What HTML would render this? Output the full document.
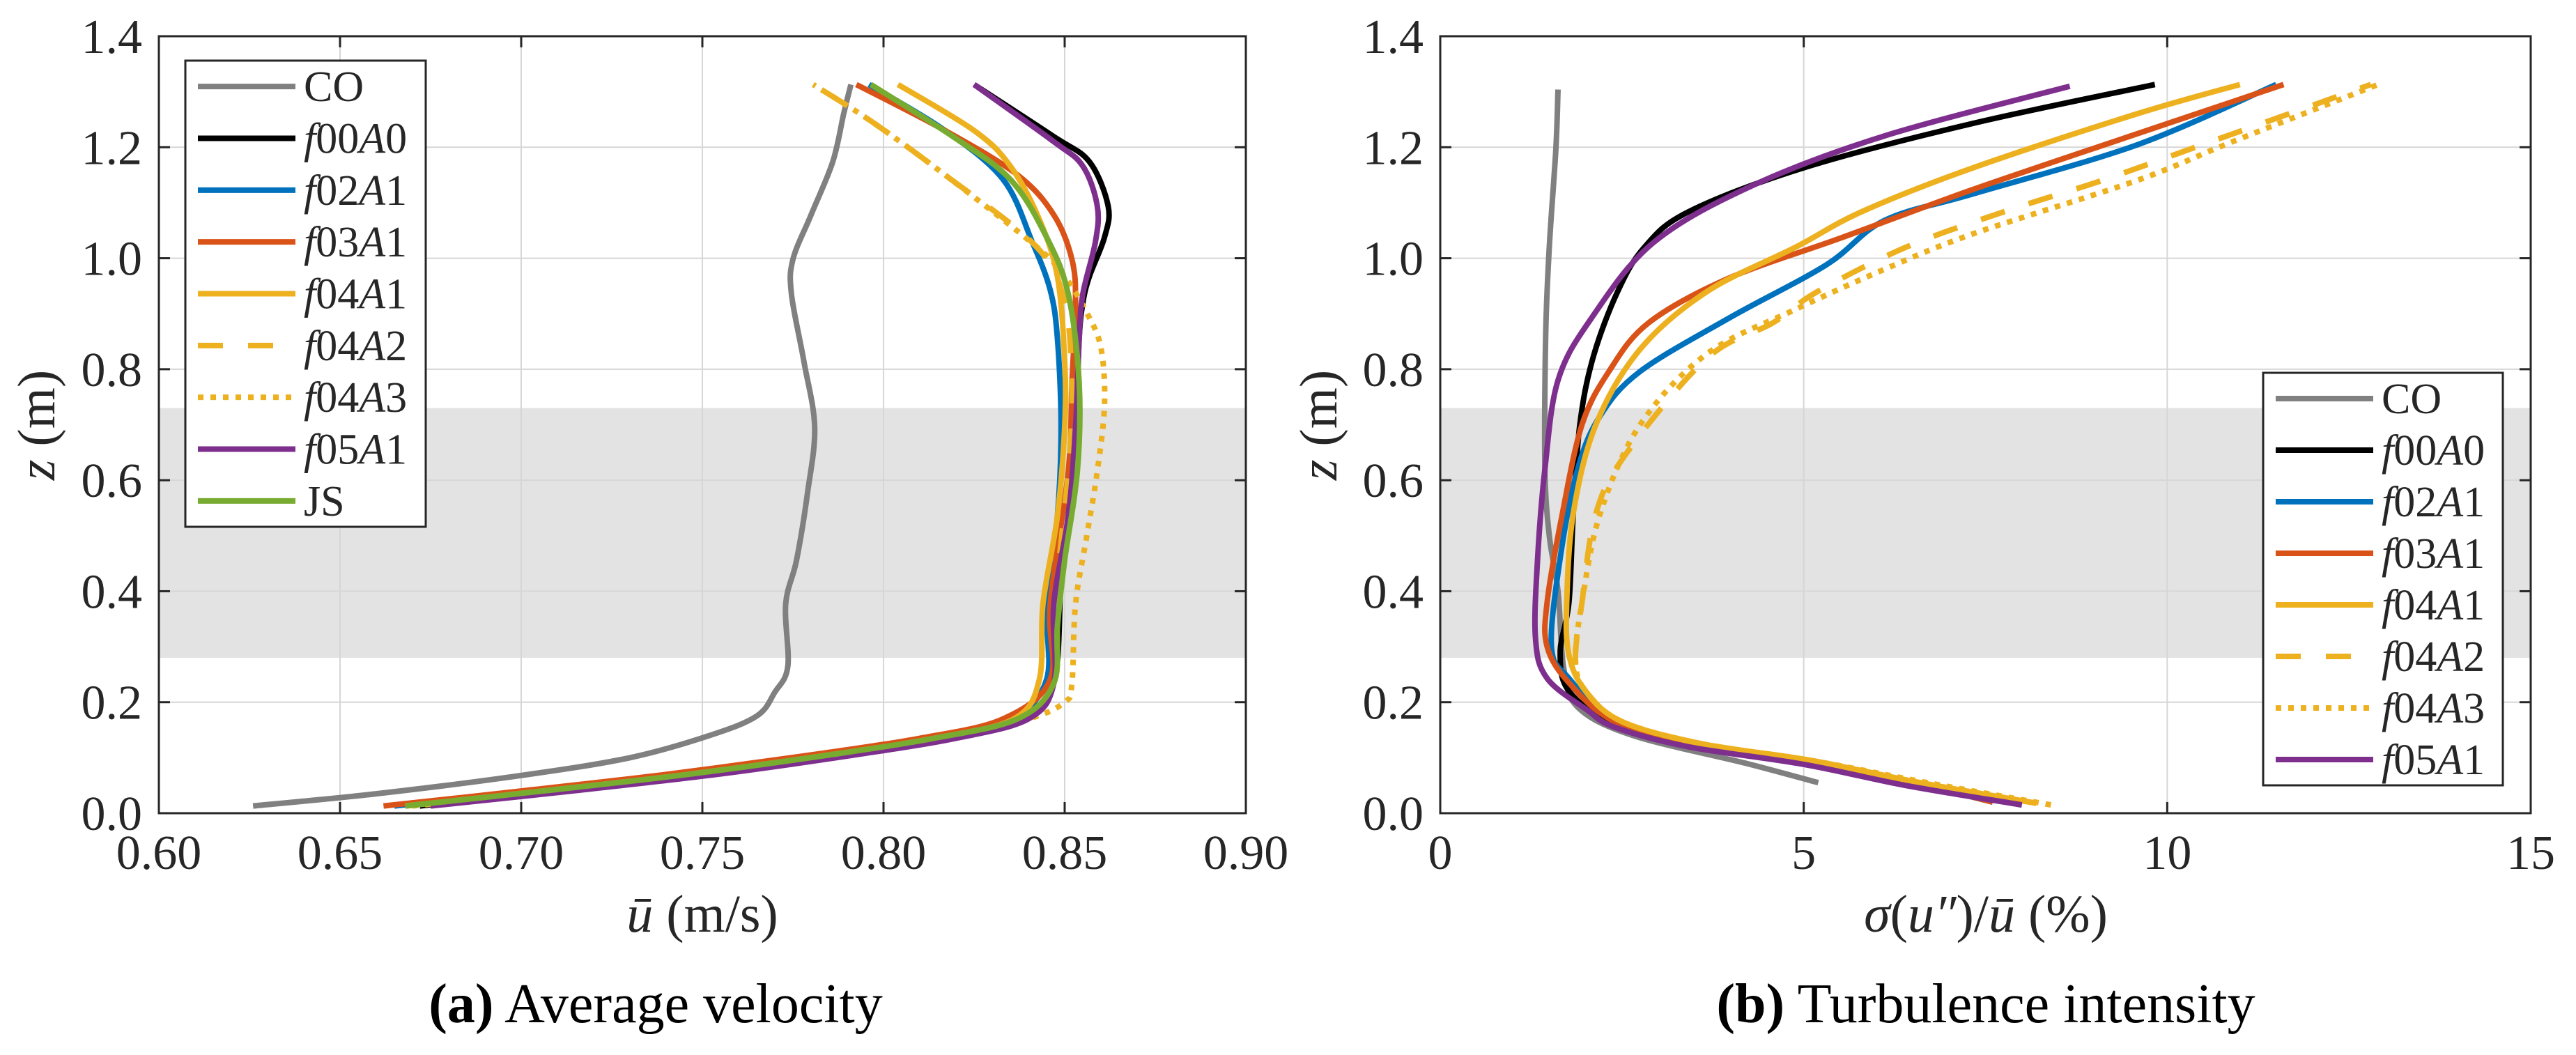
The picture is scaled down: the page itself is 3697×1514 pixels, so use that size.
<!DOCTYPE html>
<html><head><meta charset="utf-8"><style>
html,body{margin:0;padding:0;background:#fff;}
svg{display:block;}
text{font-family:"Liberation Serif",serif;fill:#262626;}
</style></head><body>
<svg id="fig" width="3697" height="1514" viewBox="0 0 3697 1514" xmlns="http://www.w3.org/2000/svg">
<g id="panelA"></g>
<g id="panelB"></g>
<text x="941" y="1467" text-anchor="middle" font-size="80" style="fill:#000"><tspan font-weight="bold">(a)</tspan> Average velocity</text>
<text x="2850" y="1467" text-anchor="middle" font-size="80" style="fill:#000"><tspan font-weight="bold">(b)</tspan> Turbulence intensity</text>
</svg>
<script>
// ---------- data ----------
const zTicks = [0.0,0.2,0.4,0.6,0.8,1.0,1.2,1.4];
const zTickLabels = ["0.0","0.2","0.4","0.6","0.8","1.0","1.2","1.4"];
const uTicks = [0.60,0.65,0.70,0.75,0.80,0.85,0.90];
const uTickLabels = ["0.60","0.65","0.70","0.75","0.80","0.85","0.90"];
const sTicks = [0,5,10,15];
const sTickLabels = ["0","5","10","15"];
const bandZ = [0.28,0.73];
const seriesNames = ["CO","f00A0","f02A1","f03A1","f04A1","f04A2","f04A3","f05A1","JS"];

// Panel (a): [u, z]
const uCO = [[0.626,0.013],[0.66,0.035],[0.70,0.068],[0.73,0.10],[0.752,0.14],[0.765,0.175],[0.77,0.218],[0.7736,0.265],[0.773,0.377],[0.776,0.456],[0.779,0.576],[0.781,0.696],[0.778,0.815],[0.7746,0.935],[0.775,0.998],[0.78,1.078],[0.786,1.174],[0.789,1.26],[0.791,1.313]];
const uF00A0 = [[0.672,0.013],[0.71,0.04],[0.75,0.07],[0.788,0.105],[0.816,0.135],[0.838,0.17],[0.847,0.234],[0.849,0.417],[0.851,0.536],[0.853,0.696],[0.854,0.855],[0.855,0.919],[0.8568,0.967],[0.861,1.038],[0.862,1.094],[0.8568,1.174],[0.8468,1.22],[0.825,1.313]];
const uF02A1 = [[0.665,0.013],[0.703,0.04],[0.743,0.07],[0.782,0.105],[0.812,0.135],[0.835,0.17],[0.845,0.241],[0.845,0.377],[0.848,0.536],[0.849,0.696],[0.848,0.855],[0.846,0.943],[0.841,1.03],[0.833,1.142],[0.817,1.23],[0.796,1.313]];
const uF03A1 = [[0.662,0.013],[0.70,0.04],[0.74,0.07],[0.78,0.105],[0.81,0.135],[0.833,0.17],[0.846,0.241],[0.846,0.377],[0.851,0.616],[0.852,0.775],[0.853,0.919],[0.852,0.998],[0.847,1.078],[0.837,1.15],[0.817,1.23],[0.7925,1.313]];
const uF04A1 = [[0.668,0.013],[0.706,0.04],[0.746,0.07],[0.785,0.105],[0.814,0.135],[0.836,0.17],[0.843,0.241],[0.844,0.377],[0.848,0.536],[0.85,0.696],[0.85,0.815],[0.848,0.967],[0.843,1.07],[0.835,1.166],[0.825,1.23],[0.804,1.313]];
const uF04A2 = [[0.668,0.013],[0.706,0.04],[0.746,0.07],[0.785,0.105],[0.814,0.135],[0.837,0.17],[0.847,0.234],[0.848,0.417],[0.851,0.616],[0.852,0.76],[0.85,0.92],[0.842,1.022],[0.817,1.15],[0.797,1.245],[0.7806,1.313]];
const uF04A3 = [[0.67,0.013],[0.708,0.04],[0.748,0.07],[0.787,0.105],[0.816,0.135],[0.84,0.17],[0.85,0.2],[0.852,0.234],[0.853,0.377],[0.856,0.496],[0.859,0.616],[0.861,0.736],[0.86,0.839],[0.856,0.903],[0.85,0.967],[0.842,1.022],[0.817,1.15],[0.797,1.245],[0.7806,1.313]];
const uF05A1 = [[0.675,0.013],[0.714,0.04],[0.754,0.07],[0.792,0.105],[0.82,0.135],[0.84,0.17],[0.847,0.234],[0.847,0.377],[0.851,0.536],[0.853,0.696],[0.854,0.855],[0.855,0.935],[0.8585,1.03],[0.859,1.094],[0.855,1.166],[0.847,1.21],[0.825,1.313]];
const uJS = [[0.668,0.013],[0.706,0.04],[0.746,0.07],[0.785,0.105],[0.814,0.135],[0.837,0.17],[0.847,0.234],[0.848,0.337],[0.85,0.456],[0.8535,0.616],[0.854,0.775],[0.851,0.935],[0.845,1.038],[0.835,1.142],[0.819,1.22],[0.7965,1.313]];

// Panel (b): [sigma %, z]
const sCO = [[5.2,0.055],[4.2,0.09],[2.65,0.14],[1.9,0.19],[1.7,0.26],[1.62,0.40],[1.5,0.50],[1.44,0.62],[1.45,0.86],[1.5,1.02],[1.59,1.196],[1.62,1.304]];
const sF00A0 = [[8.0,0.015],[6.5,0.05],[5.0,0.092],[3.5,0.12],[2.4,0.16],[1.77,0.22],[1.65,0.29],[1.77,0.38],[1.83,0.54],[1.92,0.70],[2.1,0.82],[2.44,0.94],[2.81,1.02],[3.42,1.084],[5.0,1.163],[7.33,1.243],[9.83,1.313]];
const sF02A1 = [[7.6,0.02],[6.5,0.055],[5.0,0.095],[3.5,0.125],[2.4,0.165],[1.77,0.243],[1.53,0.30],[1.65,0.46],[1.89,0.62],[2.2,0.716],[2.75,0.796],[3.97,0.892],[5.31,0.988],[6.11,1.068],[7.33,1.116],[9.58,1.204],[11.5,1.313]];
const sF03A1 = [[7.6,0.02],[6.5,0.055],[5.0,0.095],[3.5,0.125],[2.4,0.165],[1.77,0.235],[1.47,0.30],[1.47,0.38],[1.68,0.54],[1.95,0.70],[2.32,0.796],[2.87,0.884],[3.97,0.964],[5.5,1.036],[7.33,1.124],[9.58,1.224],[11.6,1.313]];
const sF04A1 = [[8.2,0.018],[6.6,0.055],[5.1,0.095],[3.6,0.125],[2.5,0.165],[2.0,0.22],[1.77,0.285],[1.74,0.38],[1.83,0.54],[2.14,0.70],[2.75,0.836],[3.67,0.94],[4.89,1.02],[5.8,1.084],[7.33,1.163],[9.58,1.26],[11.0,1.313]];
const sF04A2 = [[8.2,0.018],[6.6,0.055],[5.1,0.095],[3.6,0.125],[2.5,0.165],[2.0,0.22],[1.86,0.275],[1.95,0.38],[2.14,0.54],[2.57,0.65],[3.67,0.82],[4.58,0.884],[5.19,0.94],[6.41,1.02],[7.76,1.084],[9.1,1.14],[10.6,1.21],[12.8,1.313]];
const sF04A3 = [[8.4,0.015],[6.7,0.055],[5.1,0.095],[3.6,0.125],[2.5,0.165],[2.0,0.22],[1.86,0.275],[1.95,0.38],[2.2,0.54],[2.75,0.70],[3.67,0.828],[4.89,0.908],[6.11,0.98],[7.33,1.044],[9.58,1.14],[10.9,1.21],[12.9,1.313]];
const sF05A1 = [[8.0,0.015],[6.4,0.05],[5.0,0.088],[3.4,0.12],[2.4,0.155],[2.02,0.186],[1.47,0.243],[1.31,0.315],[1.34,0.46],[1.44,0.62],[1.62,0.78],[2.08,0.892],[2.93,1.028],[4.28,1.13],[6.1,1.22],[8.66,1.31]];

const colors = {CO:"#808080",f00A0:"#000000",f02A1:"#0072BD",f03A1:"#D95319",f04A1:"#EDB120",f04A2:"#EDB120",f04A3:"#EDB120",f05A1:"#7E2F8E",JS:"#77AC30"};
const dashes = {f04A2:"36 36",f04A3:"8 10"};

// ---------- drawing ----------
const NS = "http://www.w3.org/2000/svg";
function mk(parent, tag, attrs){
  const e = document.createElementNS(NS, tag);
  for (const k in attrs) e.setAttribute(k, attrs[k]);
  parent.appendChild(e); return e;
}
const yTop = 52, yBot = 1167;
const yS = z => yBot - (z/1.4)*(yBot-yTop);

function smoothPath(P){
  let d = "M"+P[0][0].toFixed(1)+","+P[0][1].toFixed(1);
  for (let i=0;i<P.length-1;i++){
    const p0 = P[Math.max(0,i-1)], p1 = P[i], p2 = P[i+1], p3 = P[Math.min(P.length-1,i+2)];
    const c1x = p1[0]+(p2[0]-p0[0])/6, c1y = p1[1]+(p2[1]-p0[1])/6;
    const c2x = p2[0]-(p3[0]-p1[0])/6, c2y = p2[1]-(p3[1]-p1[1])/6;
    d += " C"+c1x.toFixed(1)+","+c1y.toFixed(1)+" "+c2x.toFixed(1)+","+c2y.toFixed(1)+" "+p2[0].toFixed(1)+","+p2[1].toFixed(1);
  }
  return d;
}

function drawPanel(g, x0, x1, xmin, xmax, xTicks, xLabels, series, legend){
  const xS = v => x0 + (v-xmin)/(xmax-xmin)*(x1-x0);
  const band = mk(g,"rect",{x:x0,y:yS(bandZ[1]),width:x1-x0,height:yS(bandZ[0])-yS(bandZ[1]),fill:"#e3e3e3"});
  
  
  xTicks.forEach((t,i)=>{
    const gl = mk(g,"line",{x1:xS(t),x2:xS(t),y1:yTop,y2:yBot,stroke:"#d6d6d6","stroke-width":2});
    
    
    mk(g,"line",{x1:xS(t),x2:xS(t),y1:yBot,y2:yBot-16,stroke:"#262626","stroke-width":3});
    mk(g,"line",{x1:xS(t),x2:xS(t),y1:yTop,y2:yTop+16,stroke:"#262626","stroke-width":3});
    const tl = mk(g,"text",{x:xS(t),y:1247,"text-anchor":"middle","font-size":70});
    tl.textContent = xLabels[i];
    
    
  });
  zTicks.forEach((t,i)=>{
    const gl = mk(g,"line",{x1:x0,x2:x1,y1:yS(t),y2:yS(t),stroke:"#d6d6d6","stroke-width":2});
    
    
    mk(g,"line",{x1:x0,x2:x0+16,y1:yS(t),y2:yS(t),stroke:"#262626","stroke-width":3});
    mk(g,"line",{x1:x1,x2:x1-16,y1:yS(t),y2:yS(t),stroke:"#262626","stroke-width":3});
    const tl = mk(g,"text",{x:x0-24,y:yS(t)+24,"text-anchor":"end","font-size":70});
    tl.textContent = zTickLabels[i];
    
    
  });
  series.forEach(s=>{
    const P = s.pts.map(p=>[xS(p[0]), yS(p[1])]);
    const a = {d:smoothPath(P),fill:"none",stroke:colors[s.name],"stroke-width":8,"stroke-linejoin":"round"};
    if (dashes[s.name]) a["stroke-dasharray"] = dashes[s.name];
    const p = mk(g,"path",a);
    
    
  });
  const box = mk(g,"rect",{x:x0,y:yTop,width:x1-x0,height:yBot-yTop,fill:"none",stroke:"#262626","stroke-width":3});
  
  
  const lg = mk(g,"g",{});
  
  
  const lr = mk(lg,"rect",{x:legend.x,y:legend.y,width:legend.w,height:legend.h,fill:"#fff",stroke:"#262626","stroke-width":3});
  
  
  const step = legend.h/legend.names.length;
  legend.names.forEach((n,i)=>{
    const cy = legend.y + step*(i+0.5);
    const e = mk(lg,"g",{});
    
    
    const a = {x1:legend.x+18,x2:legend.x+158,y1:cy,y2:cy,stroke:colors[n],"stroke-width":8};
    if (dashes[n]) a["stroke-dasharray"] = dashes[n];
    mk(e,"line",a);
    const t = mk(e,"text",{x:legend.x+170,y:cy+21,"font-size":62});
    if (n[0]==="f"){
      t.innerHTML = '<tspan font-style="italic">f</tspan>'+n.substr(1,2)+'<tspan font-style="italic">A</tspan>'+n.substr(4);
    } else t.textContent = n;
  });
}

const gA = document.getElementById("panelA");
drawPanel(gA, 228, 1788, 0.60, 0.90, uTicks, uTickLabels,
  [{name:"CO",pts:uCO},{name:"f00A0",pts:uF00A0},{name:"f02A1",pts:uF02A1},{name:"f03A1",pts:uF03A1},{name:"f04A1",pts:uF04A1},{name:"f04A2",pts:uF04A2},{name:"f04A3",pts:uF04A3},{name:"f05A1",pts:uF05A1},{name:"JS",pts:uJS}],
  {x:266,y:87,w:345,h:669,names:seriesNames});
const gB = document.getElementById("panelB");
drawPanel(gB, 2067, 3632, 0, 15, sTicks, sTickLabels,
  [{name:"CO",pts:sCO},{name:"f00A0",pts:sF00A0},{name:"f02A1",pts:sF02A1},{name:"f03A1",pts:sF03A1},{name:"f04A1",pts:sF04A1},{name:"f04A2",pts:sF04A2},{name:"f04A3",pts:sF04A3},{name:"f05A1",pts:sF05A1}],
  {x:3248,y:535,w:344,h:592,names:seriesNames.slice(0,8)});

function label(g, x, y, html, rot, name){
  const t = mk(g,"text",{x:x,y:y,"text-anchor":"middle","font-size":76});
  if (rot) t.setAttribute("transform","rotate(-90 "+x+" "+y+")");
  t.innerHTML = html;
  
  
}
label(gA, 1008, 1337, '<tspan font-style="italic">ū</tspan> (m/s)', false, 'x-axis-title');
label(gA, 78, 610, '<tspan font-style="italic">z</tspan> (m)', true, 'y-axis-title');
label(gB, 2850, 1337, '<tspan font-style="italic">σ</tspan>(<tspan font-style="italic">u″</tspan>)/<tspan font-style="italic">ū</tspan> (%)', false, 'x-axis-title');
label(gB, 1918, 610, '<tspan font-style="italic">z</tspan> (m)', true, 'y-axis-title');
</script>
</body></html>
